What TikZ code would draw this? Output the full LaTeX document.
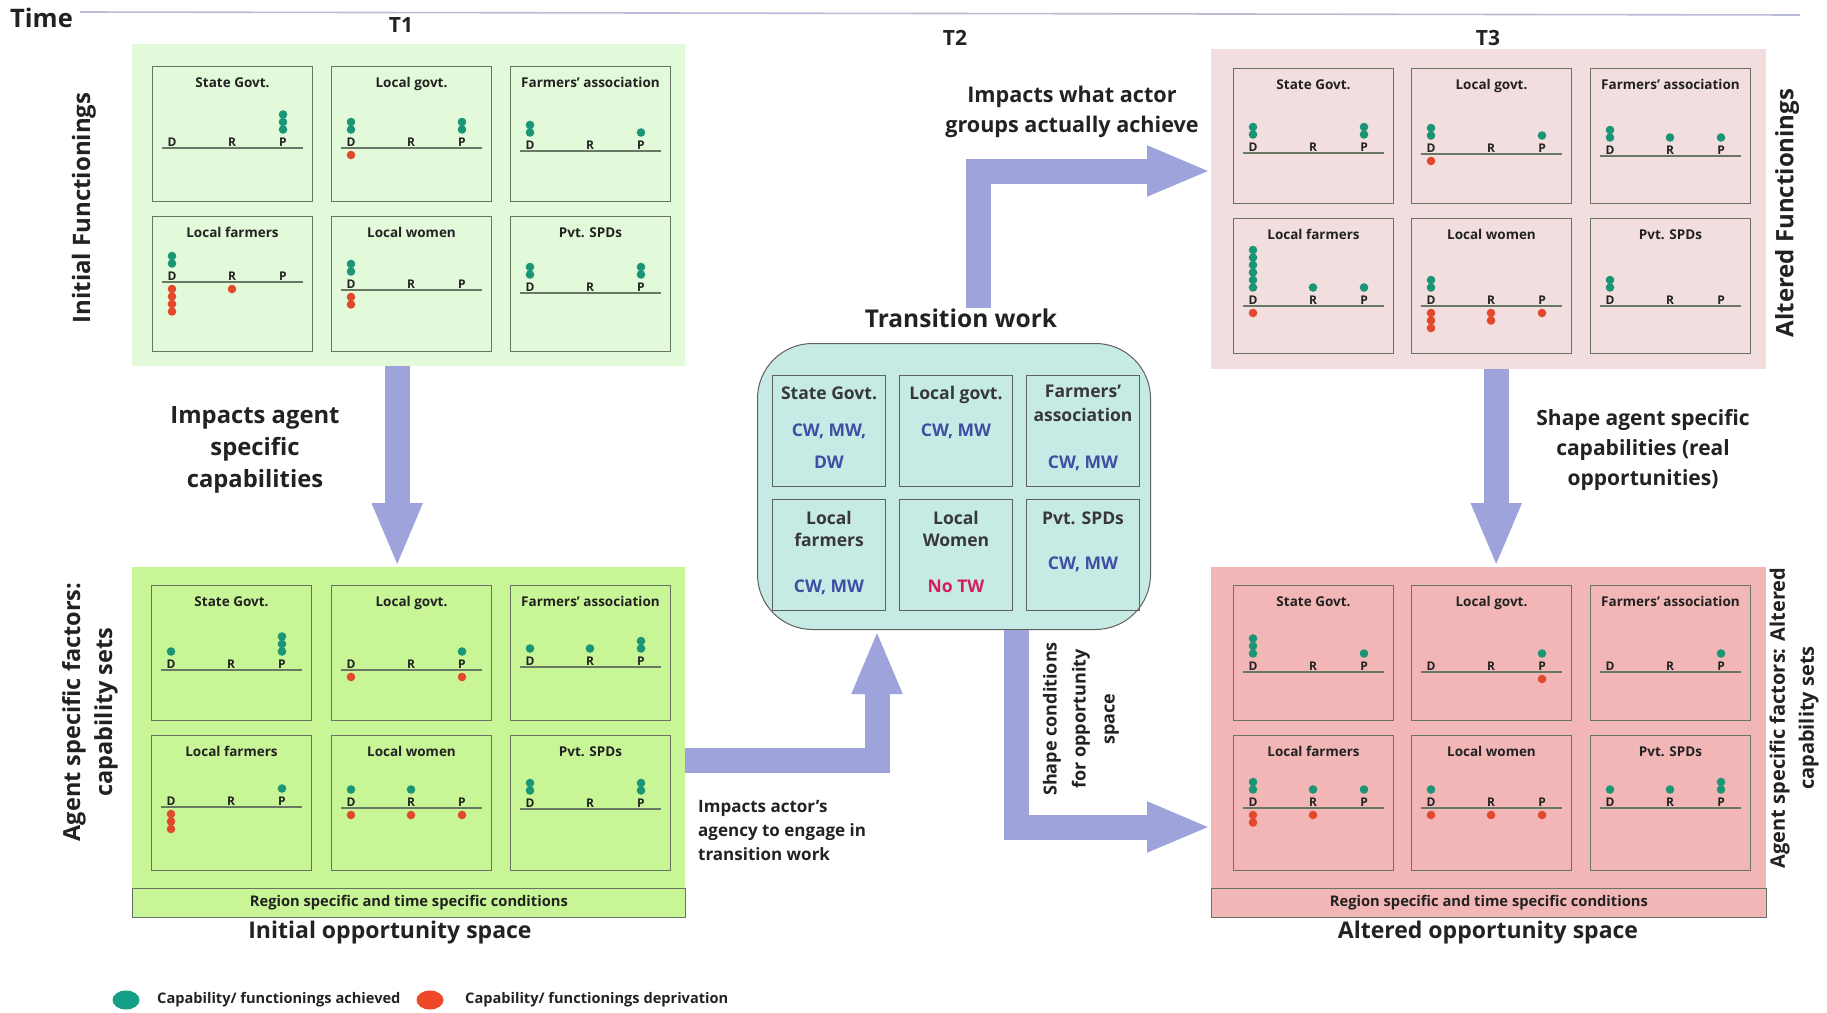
\documentclass[tikz,border=0pt]{standalone}
\usepackage{fontspec}
\setmainfont{Open Sans}
\usetikzlibrary{arrows.meta,calc,shapes.geometric}
\definecolor{pA}{RGB}{226,250,218}
\definecolor{pB}{RGB}{200,245,150}
\definecolor{pC}{RGB}{242,222,222}
\definecolor{pD}{RGB}{242,182,182}
\definecolor{pT}{RGB}{198,234,228}
\definecolor{arr}{RGB}{159,163,219}
\definecolor{gdotc}{RGB}{26,150,118}
\definecolor{rdotc}{RGB}{226,72,44}
\definecolor{leggreen}{RGB}{22,158,135}
\definecolor{legred}{RGB}{238,72,40}
\definecolor{txt}{RGB}{34,34,34}
\definecolor{cwblue}{RGB}{62,78,165}
\definecolor{notw}{RGB}{214,30,90}
\definecolor{boxline}{RGB}{105,115,100}
\definecolor{axisc}{RGB}{105,120,100}
\definecolor{tline}{RGB}{185,188,215}
\newcommand{\fs}[2]{\fontsize{#1pt}{#2pt}\selectfont}
\newcommand{\capbox}[5]{%
  \node[cbox] (#1) at (#2,#3) {};
  \node[ttl,anchor=base] at ($(#1.north)+(0,21)$) {#4};
  \draw[axisline] ($(#1.north west)+(10,#5)$) -- ($(#1.north east)+(-10,#5)$);
  \node[lbl,anchor=base] at ($(#1.north west)+(20,#5-1.5)$) {D};
  \node[lbl,anchor=base] at ($(#1.north west)+(80,#5-1.5)$) {R};
  \node[lbl,anchor=base] at ($(#1.north west)+(131,#5-1.5)$) {P};
}
\newcommand{\dcol}[5]{%
  \ifnum#4>0\relax\foreach \k in {1,...,#4}{\fill[gdotc] ($(#1.north west)+(#2,{#3-18.5-(\k-1)*7.5})$) circle[radius=4.3pt];}\fi
  \ifnum#5>0\relax\foreach \k in {1,...,#5}{\fill[rdotc] ($(#1.north west)+(#2,{#3+7-(\k-1)*-7.5})$) circle[radius=4.3pt];}\fi
}
\newcommand{\dts}[8]{\dcol{#1}{20}{#2}{#3}{#4}\dcol{#1}{80}{#2}{#5}{#6}\dcol{#1}{131}{#2}{#7}{#8}}
\newcommand{\tl}[4]{\node[#3,anchor=base] at ($(#1.north)+(0,#2)$) {#4};}
\tikzset{
  panel/.style={anchor=north west,inner sep=0pt,draw=none},
  strip/.style={anchor=north west,inner sep=0pt,draw=boxline,line width=0.8pt,minimum width=553pt,minimum height=29pt,font=\bfseries\fs{14.7}{16},text=txt},
  cbox/.style={draw=boxline,line width=1pt,minimum width=160pt,minimum height=135pt,anchor=north west,inner sep=0pt},
  ttl/.style={font=\bfseries\fs{13.5}{16},text=txt,inner sep=0pt},
  lbl/.style={font=\bfseries\fs{12}{14},text=txt,inner sep=0pt},
  axisline/.style={draw=axisc,line width=1.2pt},
  bigarrow/.style={draw=arr,line width=25pt,line join=miter,-{Triangle[length=64pt,width=46pt]}},
  big/.style={font=\bfseries\fs{#1}{32},text=txt,inner sep=0pt,align=center},
  tbox/.style={draw=gray!75!black,line width=1pt,minimum width=113pt,minimum height=111pt,anchor=north west,inner sep=0pt},
  tt/.style={font=\bfseries\fs{17.5}{22},text=txt!90,inner sep=0pt},
  cw/.style={font=\bfseries\fs{17.5}{22},text=cwblue,inner sep=0pt},
  nt/.style={font=\bfseries\fs{17.5}{22},text=notw,inner sep=0pt},
  legtxt/.style={font=\bfseries\fs{14.6}{16},text=txt,inner sep=0pt,anchor=west},
}
\begin{document}
\begin{tikzpicture}[x=1pt,y=-1pt]
\useasboundingbox (0,0) rectangle (1827,1012);
\fill[white] (0,0) rectangle (1827,1012);

% time axis
\node[font=\bfseries\fs{25.5}{28},anchor=base west,inner sep=0pt,text=txt] (time) at (10,27) {Time};
\coordinate (t0) at (80,12);
\coordinate (t9) at (1800,15);
\draw[draw=tline,line width=1.6pt] (t0) -- (t9);
\node[font=\bfseries\fs{21}{24},anchor=base,inner sep=0pt,text=txt] (T1) at (401,32) {T1};
\node[font=\bfseries\fs{21}{24},anchor=base,inner sep=0pt,text=txt] (T2) at (955,45) {T2};
\node[font=\bfseries\fs{21}{24},anchor=base,inner sep=0pt,text=txt] (T3) at (1488,45) {T3};

% panels
\node[panel,fill=pA,minimum width=553pt,minimum height=322pt] (PA) at (132,44) {};
\node[panel,fill=pB,minimum width=553pt,minimum height=321pt] (PB) at (132,567) {};
\node[strip,fill=pB] (SB) at (132,888) {Region specific and time specific conditions};
\node[panel,fill=pC,minimum width=555pt,minimum height=320pt] (PC) at (1211,49) {};
\node[panel,fill=pD,minimum width=555pt,minimum height=321pt] (PD) at (1211,567) {};
\node[strip,fill=pD,minimum width=555pt] (SD) at (1211,888) {Region specific and time specific conditions};

% panel A
\capbox{a1}{152}{66}{State Govt.}{82} \dts{a1}{82}{0}{0}{0}{0}{3}{0}
\capbox{a2}{331}{66}{Local govt.}{82} \dts{a2}{82}{2}{1}{0}{0}{2}{0}
\capbox{a3}{510}{66}{Farmers' association}{85} \dts{a3}{85}{2}{0}{0}{0}{1}{0}
\capbox{a4}{152}{216}{Local farmers}{66} \dts{a4}{66}{2}{4}{0}{1}{0}{0}
\capbox{a5}{331}{216}{Local women}{74} \dts{a5}{74}{2}{2}{0}{0}{0}{0}
\capbox{a6}{510}{216}{Pvt. SPDs}{77} \dts{a6}{77}{2}{0}{0}{0}{2}{0}
% panel B
\capbox{b1}{151}{585}{State Govt.}{85} \dts{b1}{85}{1}{0}{0}{0}{3}{0}
\capbox{b2}{331}{585}{Local govt.}{85} \dts{b2}{85}{0}{1}{0}{0}{1}{1}
\capbox{b3}{510}{585}{Farmers' association}{82} \dts{b3}{82}{1}{0}{1}{0}{2}{0}
\capbox{b4}{151}{735}{Local farmers}{72} \dts{b4}{72}{0}{3}{0}{0}{1}{0}
\capbox{b5}{331}{735}{Local women}{73} \dts{b5}{73}{1}{1}{1}{1}{0}{1}
\capbox{b6}{510}{735}{Pvt. SPDs}{74} \dts{b6}{74}{2}{0}{0}{0}{2}{0}
% panel C
\capbox{c1}{1233}{68}{State Govt.}{85} \dts{c1}{85}{2}{0}{0}{0}{2}{0}
\capbox{c2}{1411}{68}{Local govt.}{86} \dts{c2}{86}{2}{1}{0}{0}{1}{0}
\capbox{c3}{1590}{68}{Farmers' association}{88} \dts{c3}{88}{2}{0}{1}{0}{1}{0}
\capbox{c4}{1233}{218}{Local farmers}{88} \dts{c4}{88}{6}{1}{1}{0}{1}{0}
\capbox{c5}{1411}{218}{Local women}{88} \dts{c5}{88}{2}{3}{0}{2}{0}{1}
\capbox{c6}{1590}{218}{Pvt. SPDs}{88} \dts{c6}{88}{2}{0}{0}{0}{0}{0}
% panel D
\capbox{d1}{1233}{585}{State Govt.}{87} \dts{d1}{87}{3}{0}{0}{0}{1}{0}
\capbox{d2}{1411}{585}{Local govt.}{87} \dts{d2}{87}{0}{0}{0}{0}{1}{1}
\capbox{d3}{1590}{585}{Farmers' association}{87} \dts{d3}{87}{0}{0}{0}{0}{1}{0}
\capbox{d4}{1233}{735}{Local farmers}{73} \dts{d4}{73}{2}{2}{1}{1}{1}{0}
\capbox{d5}{1411}{735}{Local women}{73} \dts{d5}{73}{1}{1}{0}{1}{0}{1}
\capbox{d6}{1590}{735}{Pvt. SPDs}{73} \dts{d6}{73}{1}{0}{1}{0}{2}{0}

% side labels
\node[big=24,rotate=90] (lA) at (84,208) {Initial Functionings};
\node[big=23.5,rotate=90] (lB) at (90,712) {Agent specific factors:\\capability sets};
\node[big=24,rotate=90] (lC) at (1787,213) {Altered Functionings};
\node[font=\bfseries\fs{20}{29},text=txt,inner sep=0pt,align=center,rotate=90] (lD) at (1794,718) {Agent specific factors: Altered\\capability sets};
\node[font=\bfseries\fs{23}{26},text=txt,inner sep=0pt] (oA) at (390,933) {Initial opportunity space};
\node[font=\bfseries\fs{23}{26},text=txt,inner sep=0pt] (oD) at (1488,933) {Altered opportunity space};

% transition work
\node[font=\bfseries\fs{24.5}{26},text=txt,inner sep=0pt] (TWL) at (961,318) {Transition work};
\node[draw=gray!75!black,fill=pT,rounded corners=55pt,minimum width=393pt,minimum height=286pt,anchor=north west,line width=1pt,inner sep=0pt] (TW) at (757,343) {};
\node[tbox] (t1) at (772,375) {};
\node[tbox] (t2) at (899,375) {};
\node[tbox] (t3) at (1026,375) {};
\node[tbox] (t4) at (772,499) {};
\node[tbox] (t5) at (899,499) {};
\node[tbox] (t6) at (1026,499) {};
\tl{t1}{24.5}{tt}{State Govt.}
\tl{t1}{61.5}{cw}{CW, MW,}
\tl{t1}{93.5}{cw}{DW}
\tl{t2}{24.5}{tt}{Local govt.}
\tl{t2}{61.5}{cw}{CW, MW}
\tl{t3}{22.5}{tt}{Farmers'}
\tl{t3}{46.5}{tt}{association}
\tl{t3}{93.5}{cw}{CW, MW}
\tl{t4}{25.5}{tt}{Local}
\tl{t4}{47.5}{tt}{farmers}
\tl{t4}{93.5}{cw}{CW, MW}
\tl{t5}{25.5}{tt}{Local}
\tl{t5}{47.5}{tt}{Women}
\tl{t5}{93.5}{nt}{No TW}
\tl{t6}{25.5}{tt}{Pvt. SPDs}
\tl{t6}{70.5}{cw}{CW, MW}

% arrows
\coordinate (k1) at (877,760);
\coordinate (k2) at (978,171);
\coordinate (k3) at (1016,827);
\draw[bigarrow] ($(PA.south)+(-11.5,0)$) -- ($(PB.north)+(-11.5,0)$);
\draw[bigarrow] (PB.east |- k1) -- (k1) -- (TW.south -| k1);
\draw[bigarrow] (TWL.north -| k2) -- (k2) -- (PC.west |- k2);
\draw[bigarrow] (TW.south -| k3) -- (k3) -- (PD.west |- k3);
\draw[bigarrow] ($(PC.south)+(7.5,0)$) -- ($(PD.north)+(7.5,0)$);

% arrow labels
\node[big=23.8] (aA) at (255,450) {Impacts agent\\specific\\capabilities};
\node[font=\bfseries\fs{21}{30},text=txt,inner sep=0pt,align=center] (aC) at (1643,450) {Shape agent specific\\capabilities (real\\opportunities)};
\node[font=\bfseries\fs{21.6}{30},text=txt,inner sep=0pt,align=center] (aT) at (1072,112) {Impacts what actor\\groups actually achieve};
\node[font=\bfseries\fs{17}{24},text=txt,inner sep=0pt,align=left,anchor=west] (aB) at (698,831) {Impacts actor's\\agency to engage in\\transition work};
\node[font=\bfseries\fs{18}{29},text=txt,inner sep=0pt,align=center,rotate=90] (aD) at (1081,719) {Shape conditions\\for opportunity\\space};

% legend
\node[ellipse,fill=leggreen,minimum width=27pt,minimum height=19pt,inner sep=0pt] (lg1) at (126,1000) {};
\node[legtxt] (lt1) at (157,1000) {Capability/ functionings achieved};
\node[ellipse,fill=legred,minimum width=27pt,minimum height=19pt,inner sep=0pt] (lg2) at (430,1000) {};
\node[legtxt] (lt2) at (465,1000) {Capability/ functionings deprivation};
\end{tikzpicture}
\end{document}
